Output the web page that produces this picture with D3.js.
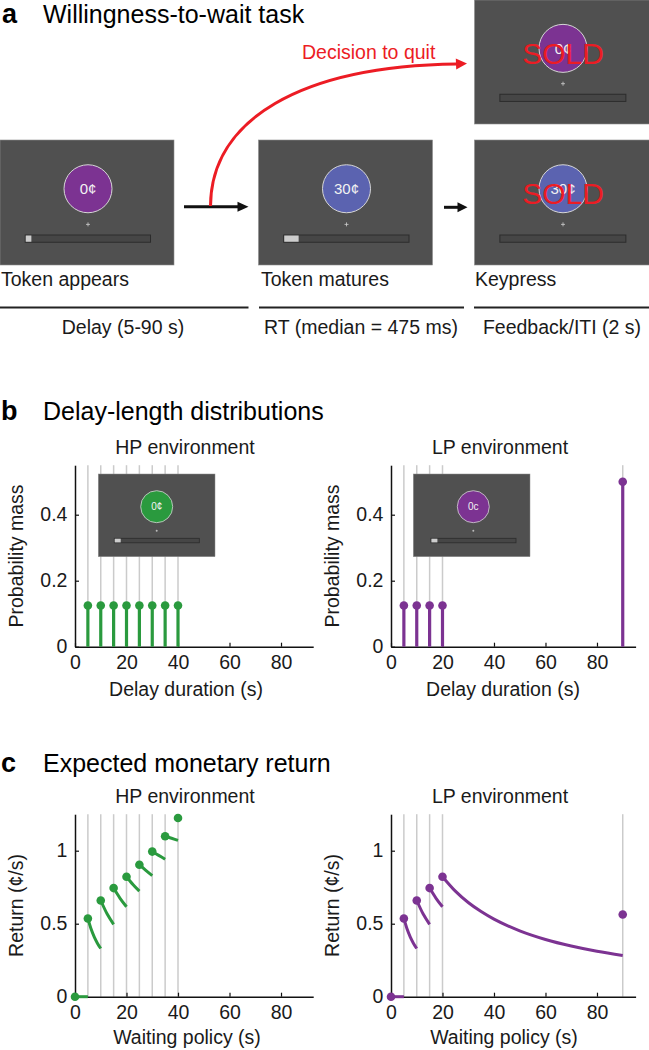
<!DOCTYPE html>
<html><head><meta charset="utf-8">
<script src="https://cdn.jsdelivr.net/npm/d3@7"></script>
<style>
html,body{margin:0;padding:0;background:#fff;}
svg{display:block;font-family:"Liberation Sans", Arial, Helvetica, sans-serif;}
</style></head><body>
<svg id="chart" width="649" height="1050"></svg>
<script>
// ---------------- DATA ----------------
// Panel a: task screens
const screenTokens = ["0¢", "30¢", "0¢", "30¢"];
const screenProgress = [0.045, 0.115, 0, 0];
const screenSold = [false, false, true, true];
const stageLabels = ["Token appears", "Token matures", "Keypress"];
const phaseLabels = ["Delay (5-90 s)", "RT (median = 475 ms)", "Feedback/ITI (2 s)"];
const quitLabel = "Decision to quit";

// Panel b: delay-length distributions
const hpDelays = [5, 10, 15, 20, 25, 30, 35, 40];
const hpProb = [0.125, 0.125, 0.125, 0.125, 0.125, 0.125, 0.125, 0.125];
const lpDelays = [5, 10, 15, 20, 90];
const lpProb = [0.125, 0.125, 0.125, 0.125, 0.5];
const probTicks = [0, 0.2, 0.4];
const xTicks = [0, 20, 40, 60, 80];

// Panel c: expected monetary return (¢/s) at each waiting policy
const hpPolicy = [0, 5, 10, 15, 20, 25, 30, 35, 40];
const hpReturnAt = [0, 0.536, 0.659, 0.744, 0.822, 0.904, 0.994, 1.099, 1.224];
const lpPolicy = [0, 5, 10, 15, 20, 90];
const lpReturnAt = [0, 0.536, 0.659, 0.744, 0.822, 0.563];
const hpReturnCurves = [
  [[0, 0], [5, 0]],
  [[5, 0.536], [6.25, 0.463], [7.5, 0.408], [8.75, 0.365], [10, 0.330]],
  [[10, 0.659], [12.5, 0.566], [15, 0.496]],
  [[15, 0.744], [17.5, 0.674], [20, 0.616]],
  [[20, 0.822], [22.5, 0.769], [25, 0.723]],
  [[25, 0.904], [27.5, 0.865], [30, 0.829]],
  [[30, 0.994], [32.5, 0.968], [35, 0.942]],
  [[35, 1.099], [37.5, 1.085], [40, 1.071]]
];
const lpReturnCurves = [
  [[0, 0], [5, 0]],
  [[5, 0.536], [6.25, 0.463], [7.5, 0.408], [8.75, 0.365], [10, 0.330]],
  [[10, 0.659], [12.5, 0.566], [15, 0.496]],
  [[15, 0.744], [17.5, 0.674], [20, 0.616]],
  [[20, 0.822], [25, 0.723], [30, 0.645], [35, 0.583], [40, 0.531], [50, 0.451],
   [60, 0.392], [70, 0.347], [80, 0.311], [90, 0.282]]
];
const returnTicks = [0, 0.5, 1];

// ---------------- STYLE ----------------
const C = {
  purple: "#7c3392", blue: "#5b63b0", green: "#2a9a3e", red: "#ec1c24",
  screen: "#505050", grid: "#cbcbcb", ink: "#1a1a1a"
};
const FS = 19.5;

const svg = d3.select("#chart");

// ---------------- PANEL A ----------------
svg.append("text").attr("x", 2).attr("y", 23).attr("font-size", 27).attr("font-weight", "bold").text("a");
svg.append("text").attr("x", 43).attr("y", 23).attr("font-size", 25).text("Willingness-to-wait task");

const screenLayout = [
  {x: 0, y: 140, w: 174, h: 125},
  {x: 258.5, y: 140, w: 174, h: 125},
  {x: 474.5, y: 0, w: 175, h: 124},
  {x: 474.5, y: 140, w: 175, h: 125}
];
const screenColors = [C.purple, C.blue, C.purple, C.blue];

function drawScreen(g, L, token, color, progress, sold, opt) {
  const s = opt.scale;
  const gg = g.append("g").attr("transform", `translate(${L.x},${L.y})`);
  gg.append("rect").attr("width", L.w).attr("height", L.h).attr("fill", C.screen)
    .attr("stroke", "#8c8c8c").attr("stroke-width", 0.6);
  const cx = L.w / 2 + opt.dx;
  gg.append("circle").attr("cx", cx).attr("cy", L.h * 0.39).attr("r", opt.r)
    .attr("fill", color).attr("stroke", "#d6d6d6").attr("stroke-width", 1);
  gg.append("text").attr("x", cx).attr("y", L.h * 0.39 + opt.fs * 0.36)
    .attr("text-anchor", "middle").attr("font-size", opt.fs).attr("fill", "#f2f2f2").text(token);
  // fixation cross
  const fy = L.h * 0.675;
  gg.append("path").attr("d", `M${cx - 2},${fy}H${cx + 2}M${cx},${fy - 2}V${fy + 2}`)
    .attr("stroke", "#cfcfcf").attr("stroke-width", 0.8);
  // progress bar
  const bx0 = L.w * 0.145, bx1 = L.w * 0.865, by = L.h * 0.76, bh = L.h * 0.058;
  gg.append("rect").attr("x", bx0).attr("y", by).attr("width", bx1 - bx0).attr("height", bh)
    .attr("fill", "#464646").attr("stroke", "#2c2c2c").attr("stroke-width", 1);
  if (progress > 0) {
    gg.append("rect").attr("x", bx0 + 0.5).attr("y", by + 0.5)
      .attr("width", (bx1 - bx0) * progress).attr("height", bh - 1).attr("fill", "#cdcdcd");
  }
  if (sold) {
    gg.append("text").attr("x", cx).attr("y", L.h * 0.515).attr("text-anchor", "middle")
      .attr("font-size", 30).attr("fill", C.red).text("SOLD");
  }
}

const ga = svg.append("g");
screenLayout.forEach((L, i) => drawScreen(ga, L, screenTokens[i], screenColors[i], screenProgress[i], screenSold[i],
  {r: 24, fs: 15, dx: 1, scale: 1}));

// arrows
function arrowHead(g, tipX, tipY, len, half, ang, color) {
  const ca = Math.cos(ang), sa = Math.sin(ang);
  const bx = tipX - len * ca, by = tipY - len * sa;
  g.append("path").attr("d",
    `M${tipX},${tipY}L${bx - half * sa},${by + half * ca}L${bx + half * sa},${by - half * ca}Z`)
    .attr("fill", color);
}
ga.append("line").attr("x1", 184).attr("x2", 240).attr("y1", 206.7).attr("y2", 206.7)
  .attr("stroke", "#111").attr("stroke-width", 3);
arrowHead(ga, 248.5, 206.7, 11, 5, 0, "#111");
ga.append("line").attr("x1", 444).attr("x2", 459).attr("y1", 207.3).attr("y2", 207.3)
  .attr("stroke", "#111").attr("stroke-width", 3);
arrowHead(ga, 467.5, 207.3, 10, 5, 0, "#111");
ga.append("path").attr("d", "M210.5,206 C211,120 300,66 457,64")
  .attr("fill", "none").attr("stroke", C.red).attr("stroke-width", 3);
arrowHead(ga, 467, 63.5, 11, 5.5, -0.04, C.red);
ga.append("text").attr("x", 302).attr("y", 59).attr("font-size", FS).attr("fill", C.red).text(quitLabel);

const stageX = [1, 261, 475];
stageLabels.forEach((t, i) => ga.append("text").attr("x", stageX[i]).attr("y", 286)
  .attr("font-size", FS).attr("fill", C.ink).text(t));
const phaseSpan = [[0, 248.5], [259, 464], [474, 649]];
const phaseCenter = [123, 361, 562];
phaseSpan.forEach((s, i) => {
  ga.append("line").attr("x1", s[0]).attr("x2", s[1]).attr("y1", 307.5).attr("y2", 307.5)
    .attr("stroke", "#222").attr("stroke-width", 1.8);
  ga.append("text").attr("x", phaseCenter[i]).attr("y", 333.5).attr("text-anchor", "middle")
    .attr("font-size", FS).attr("fill", C.ink).text(phaseLabels[i]);
});

// ---------------- AXES HELPER ----------------
function axes(g, x, y, yTicks, yLabel, xLabel, title, titleX, labelX, geom) {
  const gx = g.append("g").attr("transform", `translate(0,${y.range()[0]})`)
    .call(d3.axisBottom(x).tickValues(xTicks).tickSizeInner(-4).tickSizeOuter(0).tickPadding(8.5));
  const gy = g.append("g").attr("transform", `translate(${x.range()[0]},0)`)
    .call(d3.axisLeft(y).tickValues(yTicks).tickFormat(d => String(d)).tickSizeInner(-4).tickSizeOuter(0).tickPadding(7.6));
  [gx, gy].forEach(a => {
    a.attr("font-family", null).attr("font-size", FS);
    a.selectAll("path.domain").attr("stroke", "#111").attr("stroke-width", 1.5);
    a.selectAll(".tick line").attr("stroke", "#111").attr("stroke-width", 1.2);
    a.selectAll(".tick text").attr("fill", C.ink);
  });
  const yc = (y.range()[0] + y.range()[1]) / 2;
  g.append("text").attr("transform", `translate(${x.range()[0] - 52.5},${yc}) rotate(-90)`)
    .attr("text-anchor", "middle").attr("font-size", FS).attr("fill", C.ink).text(yLabel);
  g.append("text").attr("x", labelX).attr("y", geom.xlabY).attr("text-anchor", "middle")
    .attr("font-size", FS).attr("fill", C.ink).text(xLabel);
  g.append("text").attr("x", titleX).attr("y", geom.titleY).attr("text-anchor", "middle")
    .attr("font-size", FS).attr("fill", C.ink).text(title);
}

// ---------------- PANEL B ----------------
svg.append("text").attr("x", 1).attr("y", 420).attr("font-size", 27).attr("font-weight", "bold").text("b");
svg.append("text").attr("x", 43).attr("y", 420).attr("font-size", 25).text("Delay-length distributions");

const yB = d3.scaleLinear().domain([0, 0.55]).range([646.7, 465.2]);
const xBL = d3.scaleLinear().domain([0, 92.5]).range([75, 313.2]);
const xBR = d3.scaleLinear().domain([0, 95]).range([391, 635.6]);

function stemPanel(x, delays, probs, color, tok, inset, title, titleX, labelX) {
  const g = svg.append("g");
  g.selectAll("line.grid").data(delays).join("line").attr("class", "grid")
    .attr("x1", d => x(d)).attr("x2", d => x(d)).attr("y1", yB(0)).attr("y2", yB.range()[1])
    .attr("stroke", C.grid).attr("stroke-width", 1.5);
  // inset screenshot
  const L = inset;
  const gi = g.append("g").attr("transform", `translate(${L.x},${L.y})`);
  gi.append("rect").attr("width", L.w).attr("height", L.h).attr("fill", C.screen)
    .attr("stroke", "#8c8c8c").attr("stroke-width", 0.5);
  const cx = L.cx;
  gi.append("circle").attr("cx", cx).attr("cy", 32.7).attr("r", 16).attr("fill", color)
    .attr("stroke", "#d6d6d6").attr("stroke-width", 0.8);
  gi.append("text").attr("x", cx).attr("y", 36.3).attr("text-anchor", "middle").attr("font-size", 10)
    .attr("fill", "#f2f2f2").text(tok);
  gi.append("circle").attr("cx", cx).attr("cy", 56.7).attr("r", 1).attr("fill", "#bbb");
  gi.append("rect").attr("x", L.bx0).attr("y", 64.3).attr("width", 85).attr("height", 4.5)
    .attr("fill", "#464646").attr("stroke", "#2c2c2c").attr("stroke-width", 0.8);
  gi.append("rect").attr("x", L.bx0 + 0.4).attr("y", 64.7).attr("width", 6).attr("height", 3.7)
    .attr("fill", "#cdcdcd");

  axes(g, x, yB, probTicks, "Probability mass", "Delay duration (s)", title, titleX, labelX,
       {xlabY: 695.5, titleY: 454});
  const data = delays.map((d, i) => ({d, p: probs[i]}));
  g.selectAll("line.stem").data(data).join("line").attr("class", "stem")
    .attr("x1", v => x(v.d)).attr("x2", v => x(v.d)).attr("y1", yB(0)).attr("y2", v => yB(v.p))
    .attr("stroke", color).attr("stroke-width", 3.2);
  g.selectAll("circle.dot").data(data).join("circle").attr("class", "dot")
    .attr("cx", v => x(v.d)).attr("cy", v => yB(v.p)).attr("r", 4.3).attr("fill", color);
}
stemPanel(xBL, hpDelays, hpProb, C.green, "0¢",
  {x: 98.3, y: 474, w: 116.7, h: 82.7, cx: 58.4, bx0: 16}, "HP environment", 185, 186);
stemPanel(xBR, lpDelays, lpProb, C.purple, "0c",
  {x: 413.3, y: 474, w: 116.7, h: 82.7, cx: 60, bx0: 17.7}, "LP environment", 500, 503);

// ---------------- PANEL C ----------------
svg.append("text").attr("x", 1).attr("y", 771.5).attr("font-size", 27).attr("font-weight", "bold").text("c");
svg.append("text").attr("x", 43).attr("y", 771.5).attr("font-size", 25).text("Expected monetary return");

const yC = d3.scaleLinear().domain([0, 1.25]).range([996.7, 814.2]);
function returnPanel(x, delays, curves, pol, ret, color, title, titleX, labelX) {
  const g = svg.append("g");
  g.selectAll("line.grid").data(delays).join("line").attr("class", "grid")
    .attr("x1", d => x(d)).attr("x2", d => x(d)).attr("y1", yC(0)).attr("y2", yC.range()[1])
    .attr("stroke", C.grid).attr("stroke-width", 1.5);
  axes(g, x, yC, returnTicks, "Return (¢/s)", "Waiting policy (s)", title, titleX, labelX,
       {xlabY: 1044, titleY: 803});
  const line = d3.line().x(d => x(d[0])).y(d => yC(d[1])).curve(d3.curveMonotoneX);
  g.selectAll("path.curve").data(curves).join("path").attr("class", "curve")
    .attr("d", line).attr("fill", "none").attr("stroke", color).attr("stroke-width", 3);
  g.selectAll("circle.dot").data(pol.map((p, i) => [p, ret[i]])).join("circle").attr("class", "dot")
    .attr("cx", d => x(d[0])).attr("cy", d => yC(d[1])).attr("r", 4.3).attr("fill", color);
}
returnPanel(xBL, hpDelays, hpReturnCurves, hpPolicy, hpReturnAt, C.green, "HP environment", 185, 187);
returnPanel(xBR, lpDelays, lpReturnCurves, lpPolicy, lpReturnAt, C.purple, "LP environment", 500, 504);
</script>
</body></html>
